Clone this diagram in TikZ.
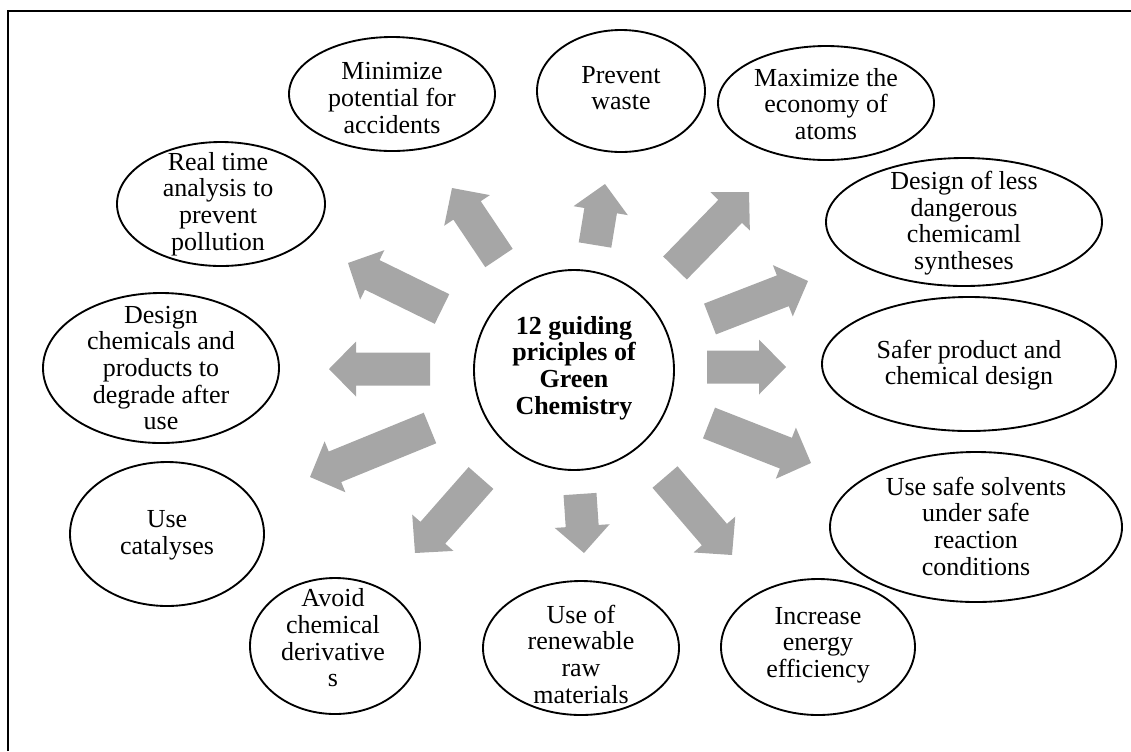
\documentclass[tikz,border=0pt]{standalone}
\usepackage{fontspec}
\setmainfont{Liberation Serif}
\usetikzlibrary{calc,shapes.geometric}
\definecolor{arrowgray}{HTML}{A6A6A6}
\newcommand{\garrow}[2]{%
  \coordinate (gbase) at ($(#2)!20.25pt!(#1)$);
  \fill[arrowgray] ($(#1)!12.375pt!90:(#2)$) -- ($(gbase)!12.375pt!-90:(#1)$) --
    ($(gbase)!20.625pt!-90:(#1)$) -- (#2) -- ($(gbase)!20.625pt!90:(#1)$) --
    ($(gbase)!12.375pt!90:(#1)$) -- ($(#1)!12.375pt!-90:(#2)$) -- cycle;}
\begin{document}
\begin{tikzpicture}[x=0.75pt,y=-0.75pt,
  oval/.style={draw, ellipse, line width=1.4pt, inner sep=0pt},
  lbl/.style={align=center, font=\fontsize{19.5pt}{20pt}\selectfont, inner sep=0pt}]
\useasboundingbox (0,0) rectangle (1131,751);
% frame
\draw[line width=1.5pt] (8,751) -- (8,11) -- (1131,11);
% centre
\node[oval, circle, minimum size=150pt] (c) at (574,370) {};
\node[lbl, font=\fontsize{19.5pt}{20pt}\selectfont\bfseries] (ct) at (574,368) {12 guiding\\priciples of\\Green\\Chemistry};
% ellipses
\node[oval, minimum width=154.5pt, minimum height=85.5pt] (e1) at (392,94) {};
\node[lbl] (t1) at (392,98) {Minimize\\potential for\\accidents};
\node[oval, minimum width=126pt, minimum height=91.5pt] (e2) at (621,91) {};
\node[lbl] (t2) at (621,88) {Prevent\\waste};
\node[oval, minimum width=162pt, minimum height=85.5pt] (e3) at (826,103) {};
\node[lbl] (t3) at (826,104) {Maximize the\\economy of\\atoms};
\node[oval, minimum width=207pt, minimum height=96pt] (e4) at (964,222) {};
\node[lbl] (t4) at (964,223) {Design of less\\dangerous\\chemicaml\\syntheses};
\node[oval, minimum width=220.5pt, minimum height=100.5pt] (e5) at (969,364) {};
\node[lbl] (t5) at (969,365) {Safer product and\\chemical design};
\node[oval, minimum width=219pt, minimum height=112.5pt] (e6) at (976,527) {};
\node[lbl] (t6) at (976,526) {Use safe solvents\\under safe\\reaction\\conditions};
\node[oval, minimum width=145.5pt, minimum height=102pt] (e7) at (818,647) {};
\node[lbl] (t7) at (818,645) {Increase\\energy\\efficiency};
\node[oval, minimum width=147pt, minimum height=100.5pt] (e8) at (581,648) {};
\node[lbl] (t8) at (581,654) {Use of\\renewable\\raw\\materials};
\node[oval, minimum width=127.5pt, minimum height=102pt] (e9) at (335,646) {};
\node[lbl] (t9) at (333,638) {Avoid\\chemical\\derivative\\s};
\node[oval, minimum width=145.5pt, minimum height=108pt] (e10) at (167,534) {};
\node[lbl] (t10) at (167,535) {Use\\catalyses};
\node[oval, minimum width=177pt, minimum height=112.5pt] (e11) at (161,368) {};
\node[lbl] (t11) at (161,368) {Design\\chemicals and\\products to\\degrade after\\use};
\node[oval, minimum width=156pt, minimum height=93pt] (e12) at (221,204) {};
\node[lbl] (t12) at (218,204) {Real time\\analysis to\\prevent\\pollution};
% arrows
\coordinate (a1s) at (499,258); \coordinate (a1e) at (452,188);
\coordinate (a2s) at (442,309); \coordinate (a2e) at (348,263);
\coordinate (a3s) at (430,369); \coordinate (a3e) at (329,369);
\coordinate (a4s) at (430,428); \coordinate (a4e) at (310,477);
\coordinate (a5s) at (481,478); \coordinate (a5e) at (415,553);
\coordinate (a6s) at (580,494); \coordinate (a6e) at (584,553);
\coordinate (a7s) at (665,477); \coordinate (a7e) at (732,555);
\coordinate (a8s) at (709,423); \coordinate (a8e) at (811,463);
\coordinate (a9s) at (707,367); \coordinate (a9e) at (786,367);
\coordinate (a10s) at (710,319); \coordinate (a10e) at (808,281);
\coordinate (a11s) at (675,268); \coordinate (a11e) at (749,192);
\coordinate (a12s) at (595,245); \coordinate (a12e) at (605,184);
\garrow{a1s}{a1e}
\garrow{a2s}{a2e}
\garrow{a3s}{a3e}
\garrow{a4s}{a4e}
\garrow{a5s}{a5e}
\garrow{a6s}{a6e}
\garrow{a7s}{a7e}
\garrow{a8s}{a8e}
\garrow{a9s}{a9e}
\garrow{a10s}{a10e}
\garrow{a11s}{a11e}
\garrow{a12s}{a12e}
\end{tikzpicture}
\end{document}
